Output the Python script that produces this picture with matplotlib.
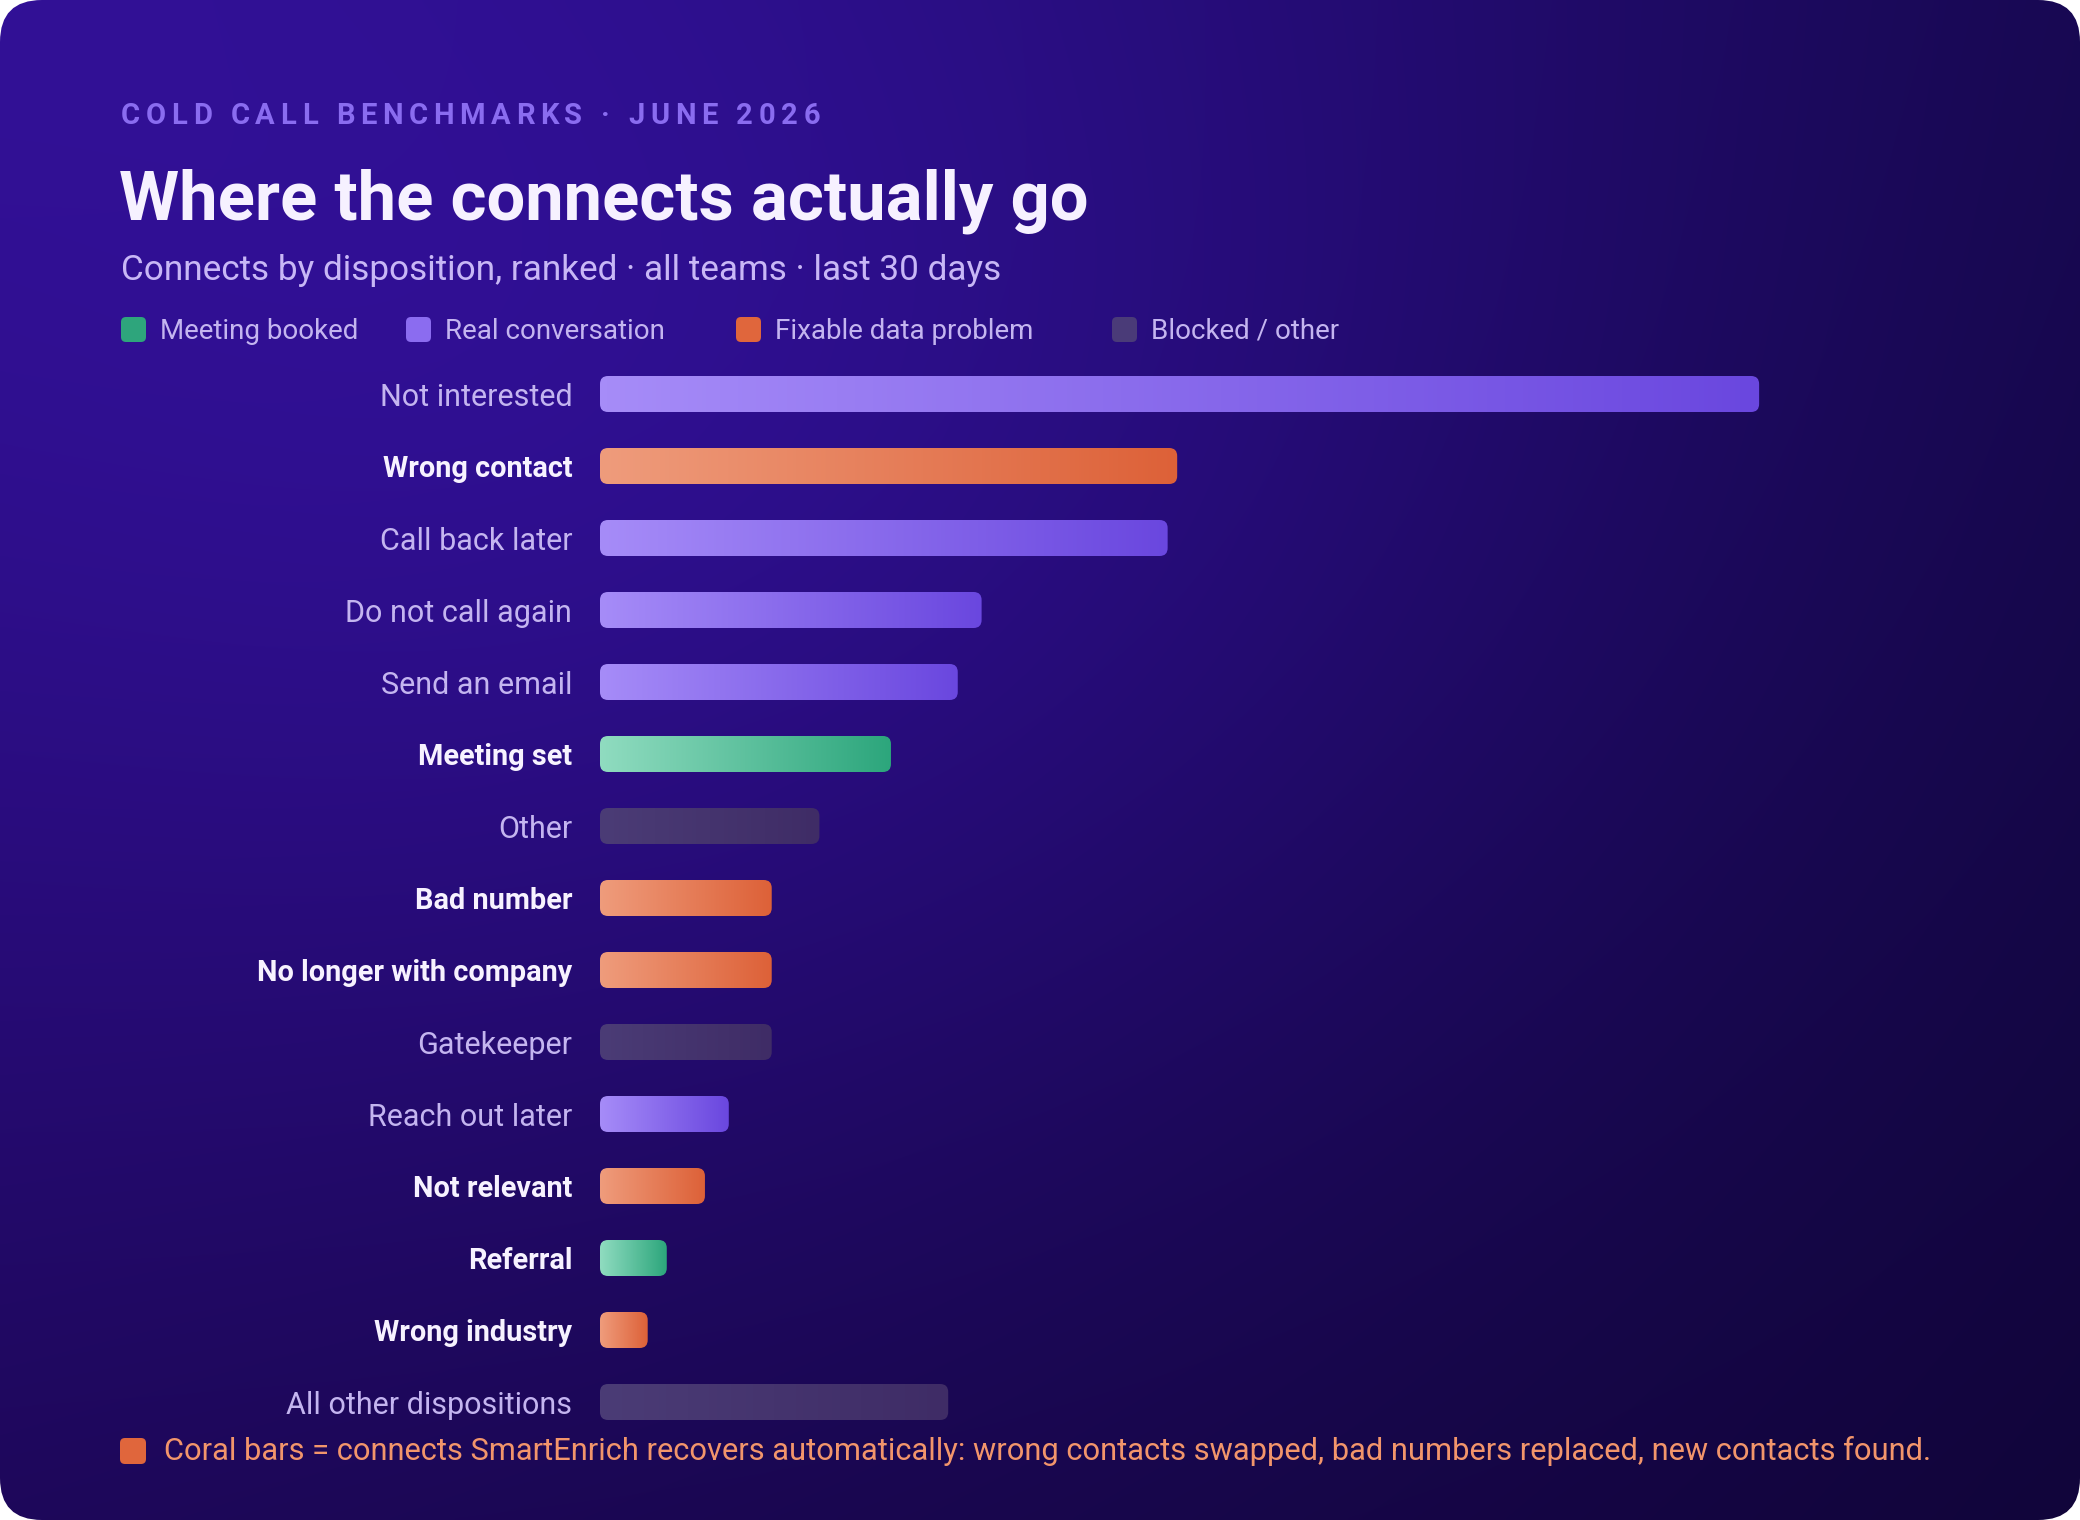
import numpy as np
import matplotlib
matplotlib.use('Agg')
import matplotlib.pyplot as plt
from matplotlib.patches import FancyBboxPatch
from matplotlib.colors import LinearSegmentedColormap, to_rgb

plt.rcParams['font.family'] = ['Roboto', 'DejaVu Sans']

# ---- data ----
categories = ['Not interested', 'Wrong contact', 'Call back later', 'Do not call again',
              'Send an email', 'Meeting set', 'Other', 'Bad number', 'No longer with company',
              'Gatekeeper', 'Reach out later', 'Not relevant', 'Referral', 'Wrong industry',
              'All other dispositions']
share = [24.3, 12.1, 11.9, 8.0, 7.5, 6.1, 4.6, 3.6, 3.6, 3.6, 2.7, 2.2, 1.4, 1.0, 7.3]
group = ['conv', 'fix', 'conv', 'conv', 'conv', 'meet', 'block', 'fix', 'fix',
         'block', 'conv', 'fix', 'meet', 'fix', 'block']

legend_keys = ['meet', 'conv', 'fix', 'block']
legend_labels = ['Meeting booked', 'Real conversation', 'Fixable data problem', 'Blocked / other']

kicker = 'COLD CALL BENCHMARKS · JUNE 2026'
title = 'Where the connects actually go'
subtitle = 'Connects by disposition, ranked · all teams · last 30 days'
footnote = ('Coral bars = connects SmartEnrich recovers automatically: wrong contacts swapped, '
            'bad numbers replaced, new contacts found.')

# gradient ends (left, right) per group
grad_colors = {
    'conv': ('#a68cf8', '#6a47df'),
    'fix': ('#ef9c7c', '#dd6138'),
    'meet': ('#90dcc0', '#2ca67c'),
    'block': ('#4b3c76', '#3f2c66'),
}
swatch = {'meet': '#2ea57c', 'conv': '#8b6cf0', 'fix': '#e0663c', 'block': '#4a3b78'}

W, H = 2080, 1520
fig = plt.figure(figsize=(W / 100, H / 100), dpi=100, facecolor='white')

# ---- card background ----
bg = fig.add_axes([0, 0, 1, 1])
bg.set_xlim(0, W)
bg.set_ylim(H, 0)
bg.axis('off')

yy, xx = np.mgrid[0:H:4, 0:W:4]
u = xx / W
v = yy / H
tl, tr = np.array(to_rgb('#2d0f88')), np.array(to_rgb('#170850'))
bl, br = np.array(to_rgb('#1d0758')), np.array(to_rgb('#11053a'))
img = ((1 - u)[..., None] * (1 - v)[..., None] * tl + u[..., None] * (1 - v)[..., None] * tr
       + (1 - u)[..., None] * v[..., None] * bl + u[..., None] * v[..., None] * br)
glow = np.exp(-(((xx - 700) / 950) ** 2 + ((yy - 450) / 720) ** 2))
img = img + glow[..., None] * np.array(to_rgb('#0c0424'))
img = np.clip(img, 0, 1)
im = bg.imshow(img, extent=[0, W, H, 0], aspect='auto', zorder=0, interpolation='bilinear')
card = FancyBboxPatch((0, 0), W, H, boxstyle='round,pad=0,rounding_size=42',
                      facecolor='none', edgecolor='none', transform=bg.transData)
bg.add_patch(card)
im.set_clip_path(card)

# ---- header texts ----
renderer = fig.canvas.get_renderer()

def spaced_text(x, y, s, target_w, **kw):
    fs_px = kw['fontsize'] * 100 / 72
    widths = []
    for ch in s:
        if ch == ' ':
            widths.append(fs_px * 0.26)
        else:
            t = bg.text(0, 0, ch, **kw)
            widths.append(t.get_window_extent(renderer).width)
            t.remove()
    track = (target_w - sum(widths)) / (len(s) - 1)
    for ch, w in zip(s, widths):
        if ch != ' ':
            bg.text(x, y, ch, **kw)
        x += w + track

spaced_text(121, 124, kicker, 699, fontsize=21, fontweight='bold', color='#8a6cf0',
            va='baseline', ha='left')
bg.text(119, 219, title, fontsize=49.5, fontweight='bold', color='#f6f1ff', va='baseline')
bg.text(121, 280, subtitle, fontsize=25.3, color='#c8b7f6', va='baseline')

legend_x = [121, 406, 736, 1112]
for key, lab, lx in zip(legend_keys, legend_labels, legend_x):
    bg.add_patch(FancyBboxPatch((lx, 317), 25, 25, boxstyle='round,pad=0,rounding_size=5',
                                facecolor=swatch[key], edgecolor='none'))
    bg.text(lx + 39, 339, lab, fontsize=20, color='#c4b5f0', va='baseline')

bg.add_patch(FancyBboxPatch((120, 1438), 26, 26, boxstyle='round,pad=0,rounding_size=5',
                            facecolor=swatch['fix'], edgecolor='none'))
bg.text(164, 1460, footnote, fontsize=22.2, color='#f2956b', va='baseline')

# ---- bar chart ----
ax_l, ax_r, ax_t, ax_b = 600, 1990, 358, 1438
ax = fig.add_axes([ax_l / W, 1 - ax_b / H, (ax_r - ax_l) / W, (ax_b - ax_t) / H])
ax.patch.set_alpha(0)
for sp in ax.spines.values():
    sp.set_visible(False)

xmax = 29.14
n = len(categories)
rows = np.arange(n)
bars = ax.barh(rows, share, height=0.5, color='none', edgecolor='none')
ax.set_xlim(0, xmax)
ax.set_ylim(n - 0.5, -0.5)

x_per_px = xmax / (ax_r - ax_l)
y_per_px = n / (ax_b - ax_t)
m_aspect = y_per_px / x_per_px
radius = 8 * x_per_px

for rect, g in zip(bars.patches, group):
    x0, y0 = rect.get_x(), rect.get_y()
    w, h = rect.get_width(), rect.get_height()
    cmap = LinearSegmentedColormap.from_list('g', grad_colors[g])
    gim = ax.imshow(np.linspace(0, 1, 256)[None, :], extent=[x0, x0 + w, y0 + h, y0],
                    cmap=cmap, aspect='auto', interpolation='bilinear', zorder=2)
    clip = FancyBboxPatch((x0, y0), w, h, boxstyle=f'round,pad=0,rounding_size={radius}',
                          mutation_aspect=m_aspect, facecolor='none', edgecolor='none',
                          transform=ax.transData)
    ax.add_patch(clip)
    gim.set_clip_path(clip)

ax.set_xlim(0, xmax)
ax.set_ylim(n - 0.5, -0.5)
ax.set_xticks([])
ax.set_yticks(rows)
ax.set_yticklabels(categories)
ax.tick_params(axis='y', length=0, pad=20)
for lab, g in zip(ax.get_yticklabels(), group):
    if g in ('fix', 'meet'):
        lab.set_color('#f7f2ff')
        lab.set_fontweight('bold')
        lab.set_fontsize(20.8)
    else:
        lab.set_color('#c4b5f0')
        lab.set_fontsize(22)

fig.savefig('out.png', dpi=100, facecolor='white')
